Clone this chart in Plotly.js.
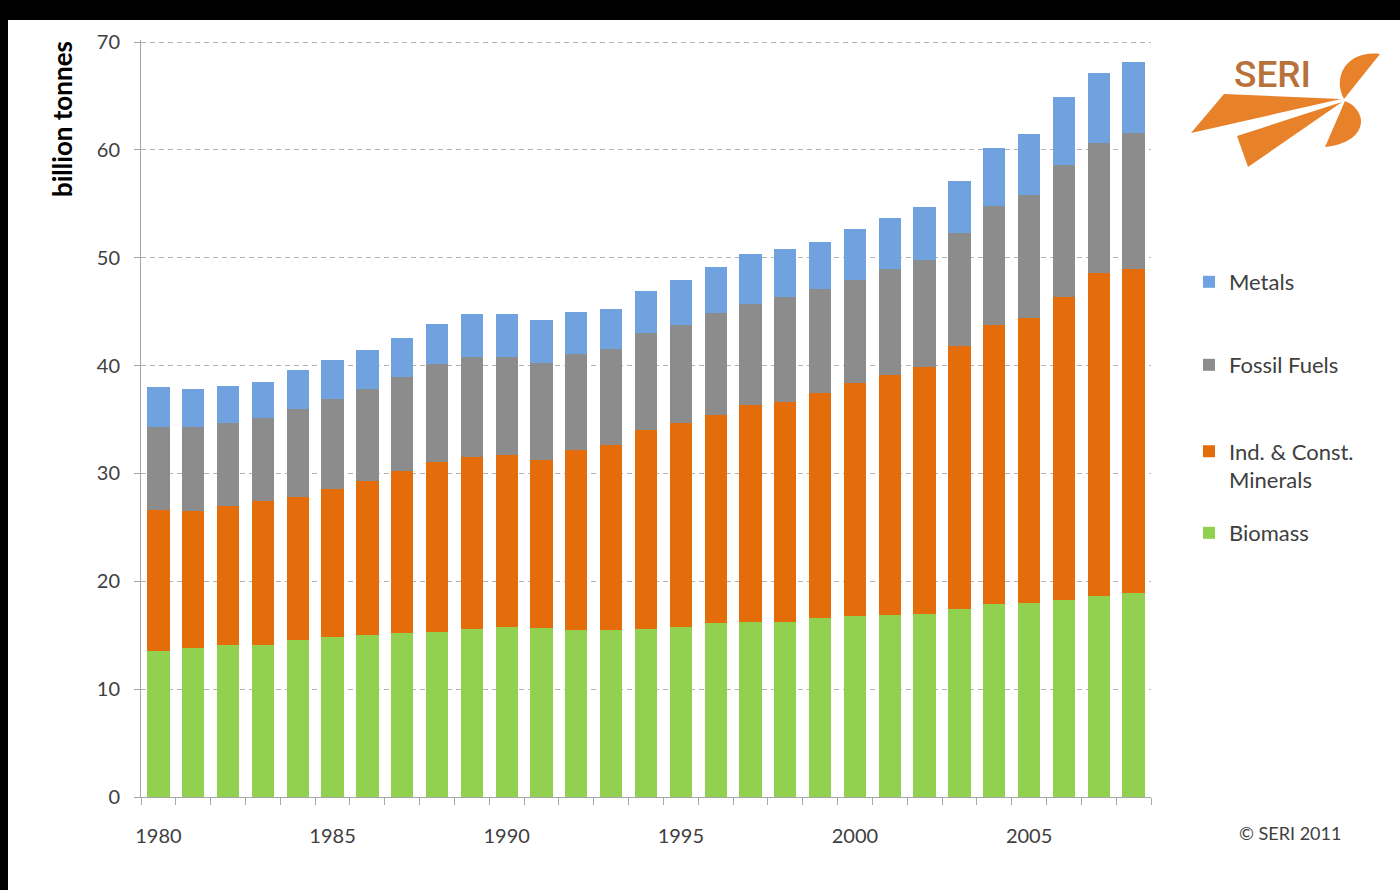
<!DOCTYPE html>
<html>
<head>
<meta charset="utf-8">
<script src="https://cdn.plot.ly/plotly-3.0.1.min.js"></script>
<style>
  html, body { margin: 0; padding: 0; background: #000; width: 1400px; height: 890px; overflow: hidden; }
  #chart { position: absolute; left: 8px; top: 20px; width: 1392px; height: 870px; background: #fff; }
</style>
</head>
<body>
<div id="chart"></div>
<script>
const years = [1980,1981,1982,1983,1984,1985,1986,1987,1988,1989,1990,1991,1992,1993,1994,1995,1996,1997,1998,1999,2000,2001,2002,2003,2004,2005,2006,2007,2008];
const biomass  = [13.5,13.8,14.1,14.1,14.6,14.8,15.0,15.2,15.3,15.6,15.8,15.7,15.5,15.5,15.6,15.8,16.1,16.2,16.2,16.6,16.8,16.9,17.0,17.4,17.9,18.0,18.3,18.6,18.9];
const minerals = [13.1,12.7,12.9,13.3,13.2,13.8,14.3,15.0,15.8,15.9,15.9,15.5,16.7,17.1,18.4,18.9,19.3,20.1,20.4,20.9,21.6,22.2,22.9,24.4,25.9,26.4,28.1,30.0,30.1];
const fossil   = [7.7,7.8,7.7,7.7,8.2,8.3,8.5,8.7,9.0,9.3,9.1,9.0,8.9,8.9,9.0,9.1,9.5,9.4,9.8,9.6,9.5,9.9,9.9,10.5,11.0,11.4,12.2,12.0,12.6];
const metals   = [3.7,3.5,3.4,3.4,3.6,3.6,3.6,3.7,3.8,4.0,4.0,4.0,3.9,3.7,3.9,4.1,4.2,4.6,4.4,4.4,4.8,4.7,4.9,4.8,5.4,5.7,6.3,6.5,6.5];
const xTickLabels = [1980,1985,1990,1995,2000,2005];
const seriesNames = ['Biomass','Ind. & Const.<br>Minerals','Fossil Fuels','Metals'];

const colors = ['#92d050','#e46c0a','#8c8c8c','#6fa2de'];
const values = [biomass, minerals, fossil, metals];
const legendIds = ['legend4','legend3','legend2','legend'];

// plot area in page pixels: x 141..1151, y 40..797 (70 sits at y=42)
const PX0 = 141, PX1 = 1151, PY0 = 40, PY1 = 797;
function px(x){ return (x - PX0) / (PX1 - PX0); }
function py(y){ return (PY1 - y) / (PY1 - PY0); }
function pt(x,y){ return px(x).toFixed(5) + ',' + py(y).toFixed(5); }

const FONT = 'Lato, "Open Sans", sans-serif';

const traces = values.map((v, i) => ({
  type: 'bar',
  x: years,
  y: v,
  name: seriesNames[i],
  marker: { color: colors[i], line: { width: 0 } },
  legend: legendIds[i],
  hoverinfo: 'skip'
}));

function legendAt(yPage){
  return {
    x: px(1189), y: py(yPage), xanchor: 'left', yanchor: 'middle',
    bgcolor: 'rgba(0,0,0,0)', borderwidth: 0, valign: 'top',
    font: { family: FONT, size: 22, color: '#404040' }
  };
}

const orange = '#e8822a';
const shapes = [
  { type: 'path', xref: 'paper', yref: 'paper', fillcolor: orange, line: { width: 0 },
    path: 'M' + pt(1191,133) + ' L' + pt(1224,94) + ' L' + pt(1341,99) + ' Z' },
  { type: 'path', xref: 'paper', yref: 'paper', fillcolor: orange, line: { width: 0 },
    path: 'M' + pt(1237,136) + ' L' + pt(1248,167) + ' L' + pt(1342,102) + ' Z' },
  { type: 'path', xref: 'paper', yref: 'paper', fillcolor: orange, line: { width: 0 },
    path: 'M' + pt(1344,99) + ' C' + pt(1332,78) + ' ' + pt(1346,50) + ' ' + pt(1380,54) + ' Z' },
  { type: 'path', xref: 'paper', yref: 'paper', fillcolor: orange, line: { width: 0 },
    path: 'M' + pt(1345,101) + ' C' + pt(1368,110) + ' ' + pt(1370,142) + ' ' + pt(1325,147) + ' Z' }
];

const layout = {
  width: 1392, height: 870,
  margin: { l: 133, r: 249, t: 20, b: 93 },
  paper_bgcolor: '#ffffff', plot_bgcolor: '#ffffff',
  barmode: 'stack',
  bargap: 0.36,
  font: { family: FONT, color: '#404040' },
  showlegend: true,
  legend: legendAt(282),
  legend2: legendAt(365),
  legend3: legendAt(466),
  legend4: legendAt(533),
  xaxis: {
    type: 'linear',
    range: [1979.5, 2008.5],
    tickmode: 'array',
    tickvals: xTickLabels,
    ticktext: xTickLabels.map(String),
    ticks: '',
    ticklabelstandoff: 21,
    tickfont: { family: FONT, size: 20, color: '#404040' },
    showline: true, linecolor: '#a6a6a6', linewidth: 1,
    showgrid: false, zeroline: false,
    minor: { tickmode: 'linear', tick0: 1979.5, dtick: 1, ticks: 'outside', ticklen: 7, tickcolor: '#a6a6b8', tickwidth: 1, showgrid: false },
    fixedrange: true
  },
  yaxis: {
    range: [0, 70.185],
    tickmode: 'array',
    tickvals: [0, 10, 20, 30, 40, 50, 60, 70],
    ticks: 'outside', ticklen: 6, tickcolor: '#a6a6a6',
    ticklabelstandoff: 10,
    tickfont: { family: FONT, size: 20, color: '#404040' },
    showline: true, linecolor: '#a6a6a6', linewidth: 1,
    showgrid: true, gridcolor: '#b4b4b4', griddash: '5px,4px', gridwidth: 1,
    zeroline: false,
    fixedrange: true
  },
  annotations: [
    { text: '<b>billion tonnes</b>', xref: 'paper', yref: 'paper', x: px(62), y: py(119),
      xanchor: 'center', yanchor: 'middle', textangle: -90, showarrow: false,
      font: { family: FONT, size: 26, color: '#000000' } },
    { text: '© SERI 2011', xref: 'paper', yref: 'paper', x: px(1290), y: py(833),
      xanchor: 'center', yanchor: 'middle', showarrow: false,
      font: { family: FONT, size: 18, color: '#404040' } },
    { text: 'SERI', xref: 'paper', yref: 'paper', x: px(1272), y: py(75),
      xanchor: 'center', yanchor: 'middle', showarrow: false,
      font: { family: 'Roboto, sans-serif', size: 37, weight: 500, color: '#b9713c' } }
  ],
  shapes: shapes
};

Plotly.newPlot('chart', traces, layout, { displayModeBar: false, staticPlot: true });
</script>
</body>
</html>
